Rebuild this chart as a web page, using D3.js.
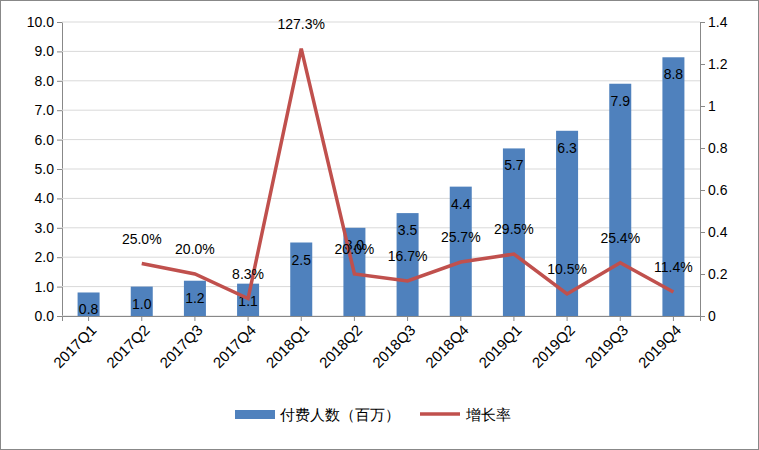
<!DOCTYPE html><html><head><meta charset="utf-8"><script src="https://cdn.jsdelivr.net/npm/d3@7"></script>
<style>body{margin:0;background:#fff}text{font-family:"Liberation Sans",Arial,sans-serif}</style></head><body>
<script>
const categories=["2017Q1","2017Q2","2017Q3","2017Q4","2018Q1","2018Q2","2018Q3","2018Q4","2019Q1","2019Q2","2019Q3","2019Q4"];
const payers=[0.8,1.0,1.2,1.1,2.5,3.0,3.5,4.4,5.7,6.3,7.9,8.8];
const growth=[null,0.25,0.20,0.083,1.273,0.20,0.167,0.257,0.295,0.105,0.254,0.114];
const leftTicks=[0,1,2,3,4,5,6,7,8,9,10];
const rightTicks=[0,0.2,0.4,0.6,0.8,1,1.2,1.4];
const W=759,H=450,L=62,R=700,T=22,B=316;
const svg=d3.select("body").append("svg").attr("width",W).attr("height",H);
svg.append("rect").attr("x",0.5).attr("y",0.5).attr("width",W-1).attr("height",H-1).attr("fill","#fff").attr("stroke","#888");
const x=d3.scaleBand().domain(categories).range([L,R]);
const y=d3.scaleLinear().domain([0,10]).range([B,T]);
const y2=d3.scaleLinear().domain([0,1.4]).range([B,T]);
const gl=svg.append("g").attr("transform",`translate(${L},0)`).call(d3.axisLeft(y).tickValues(leftTicks).tickFormat(d3.format(".1f")).tickSize(5));
svg.append("g").selectAll("line").data(leftTicks).join("line").attr("x1",L).attr("x2",R).attr("y1",d=>y(d)).attr("y2",d=>y(d)).attr("stroke","#d9d9d9");
const gr=svg.append("g").attr("transform",`translate(${R},0)`).call(d3.axisRight(y2).tickValues(rightTicks).tickFormat(d=>String(+d.toFixed(1))).tickSize(5));
const gx=svg.append("g").attr("transform",`translate(0,${B})`).call(d3.axisBottom(x).tickSize(5));
[gl,gr,gx].forEach(g=>{g.selectAll("path,line").attr("stroke","#888");g.selectAll("text").attr("font-size",14).attr("fill","#000");});
gx.selectAll("text").attr("font-size",15).attr("transform","rotate(-45)").attr("text-anchor","end").attr("dx","-0.3em").attr("dy","0.6em");
const bw=22;
svg.append("g").selectAll("rect").data(payers).join("rect").attr("x",(d,i)=>x(categories[i])+x.bandwidth()/2-bw/2).attr("width",bw).attr("y",d=>y(d)).attr("height",d=>B-y(d)).attr("fill","#4f81bd");
svg.append("g").selectAll("text").data(payers).join("text").attr("x",(d,i)=>x(categories[i])+x.bandwidth()/2).attr("y",d=>y(d)+22).attr("text-anchor","middle").attr("font-size",14).text(d=>d.toFixed(1));
const pts=growth.map((g,i)=>({c:categories[i],g})).filter(d=>d.g!==null);
svg.append("path").datum(pts).attr("fill","none").attr("stroke","#c0504d").attr("stroke-width",3.5)
 .attr("d",d3.line().x(d=>x(d.c)+x.bandwidth()/2).y(d=>y2(d.g)));
svg.append("g").selectAll("text").data(pts).join("text").attr("x",d=>x(d.c)+x.bandwidth()/2).attr("y",d=>y2(d.g)-20).attr("text-anchor","middle").attr("font-size",14).text(d=>(d.g*100).toFixed(1)+"%");
const lg=svg.append("g").attr("font-size",15);
lg.append("rect").attr("x",235).attr("y",410).attr("width",40).attr("height",9).attr("fill","#4f81bd");
lg.append("text").attr("x",280).attr("y",420).text("付费人数（百万）").attr("font-family","Noto Sans CJK SC");
lg.append("line").attr("x1",420).attr("x2",460).attr("y1",414).attr("y2",414).attr("stroke","#c0504d").attr("stroke-width",3.5);
lg.append("text").attr("x",466).attr("y",420).text("增长率").attr("font-family","Noto Sans CJK SC");
</script></body></html>
